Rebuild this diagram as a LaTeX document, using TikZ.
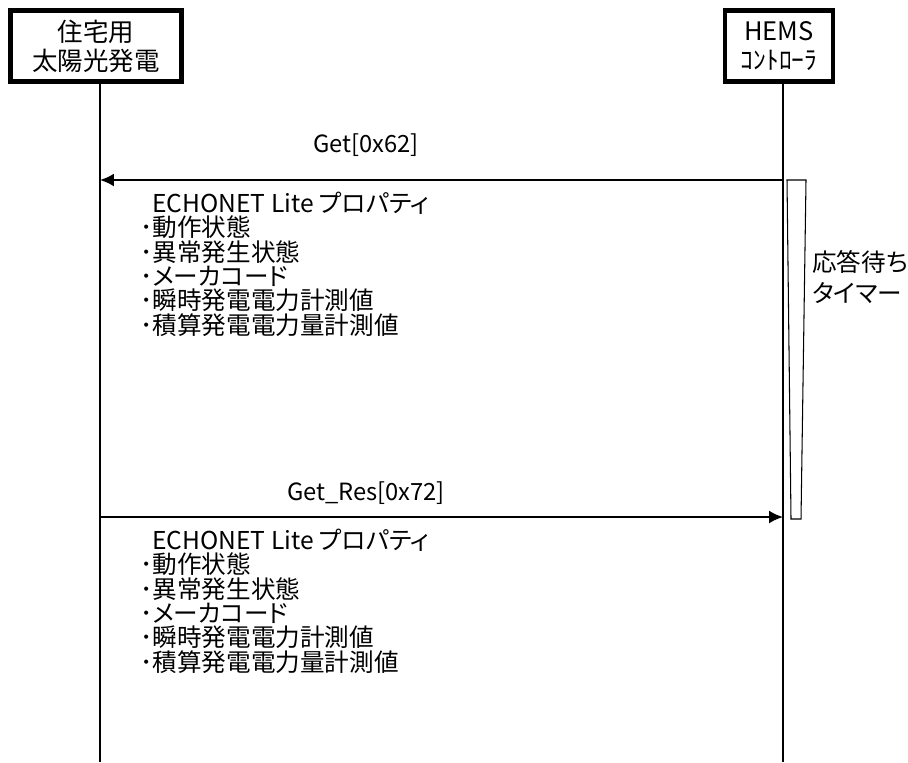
\documentclass[tikz,border=0pt]{standalone}
\usepackage{fontspec}
\setmainfont{Noto Sans CJK JP}[RawFeature=+palt]
\usetikzlibrary{arrows.meta}

\tikzset{
  actor/.style={draw, line width=2.3pt, minimum height=1.42cm, align=center,
    inner sep=0pt, font=\fontsize{14.5}{16.5}\selectfont},
  lifeline/.style={line width=0.6pt},
  msg/.style={line width=1.1pt, ->, >={Latex[length=0.28cm, width=0.26cm]}},
  lbl/.style={inner sep=0pt, font=\fontsize{13.5}{15}\selectfont},
  txt/.style={inner sep=0pt, anchor=west, font=\fontsize{14}{16}\selectfont},
}

\begin{document}
\begin{tikzpicture}[x=0.02cm, y=-0.02cm]
			\useasboundingbox (0,0) rectangle (908,762);

			\node[actor, minimum width=3.42cm] (pv) at (96,46) {住宅用\\太陽光発電};
			\node[actor, minimum width=2.16cm] (hems) at (779,46) {HEMS\\ｺﾝﾄﾛｰﾗ};

			\coordinate (pvtop) at (100,81);
			\coordinate (pvend) at (100,762);
			\coordinate (hemstop) at (783,81);
			\coordinate (hemsend) at (783,762);

			\draw[lifeline] (pvtop) -- (pvend);
			\draw[lifeline] (hemstop) -- (hemsend);

			\coordinate (get-a) at (783,180);
			\coordinate (get-b) at (100,180);
			\coordinate (res-a) at (100,517);
			\coordinate (res-b) at (783,517);

			\draw[msg] (get-a) -- (get-b);
			\node[lbl] (getlbl) at (366,145) {Get[0x62]};
			\draw[msg] (res-a) -- (res-b);
			\node[lbl] (reslbl) at (366,493) {Get\_Res[0x72]};

			\draw[lifeline, fill=white] (787,180) -- (806,180) -- (801,519) -- (791,519) -- cycle;
			\node[txt] (timer1) at (812,262) {応答待ち};
			\node[txt] (timer2) at (812,293) {タイマー};

			\foreach \yy/\blk in {203/a, 540/b} {
				\node[txt] (\blk0) at (152,\yy) {ECHONET Lite プロパティ};
				\foreach \t [count=\i] in {動作状態, 異常発生状態, メーカコード, 瞬時発電電力計測値, 積算発電電力量計測値}
					\node[txt] (\blk\i) at (140,\yy+24.4*\i) {･\t};
			}
		\end{tikzpicture}
\end{document}
